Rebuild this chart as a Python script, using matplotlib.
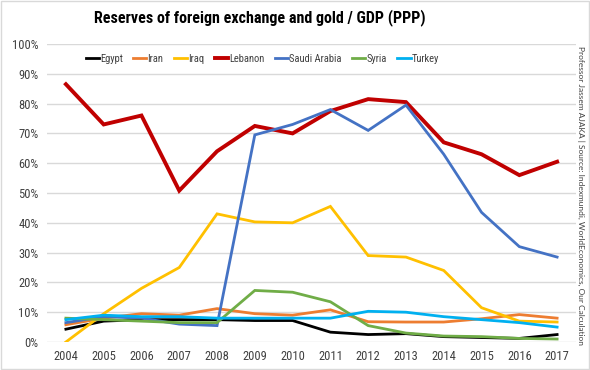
import matplotlib
matplotlib.use("Agg")
import matplotlib.pyplot as plt
from matplotlib import font_manager as fm
from matplotlib.ticker import FuncFormatter

years = list(range(2004, 2018))
egypt = [4.3, 7.0, 7.5, 7.5, 7.5, 7.2, 7.2, 3.3, 2.5, 2.8, 1.8, 1.5, 1.2, 2.5]
iran = [5.8, 8.0, 9.5, 9.0, 11.2, 9.5, 9.0, 10.8, 6.8, 6.7, 6.7, 7.8, 9.2, 8.0]
iraq = [0.0, 9.5, 18.0, 25.0, 43.0, 40.3, 40.0, 45.5, 29.0, 28.5, 24.0, 11.5, 7.0, 6.7]
lebanon = [86.5, 73.0, 76.0, 50.8, 64.0, 72.5, 70.0, 77.5, 81.5, 80.5, 67.0, 63.0, 56.0, 60.5]
saudi = [6.5, 8.5, 8.0, 6.0, 5.5, 69.5, 73.0, 78.0, 71.0, 79.5, 63.0, 43.5, 32.0, 28.5]
syria = [8.0, 7.5, 7.0, 6.5, 6.5, 17.3, 16.7, 13.5, 5.5, 3.0, 2.0, 1.8, 1.2, 1.0]
turkey = [7.5, 9.0, 8.5, 8.5, 8.0, 8.0, 8.0, 8.0, 10.3, 10.0, 8.5, 7.5, 6.5, 5.0]

series = [("Egypt", egypt, "#000000", 2.0),
          ("Iran", iran, "#ED7D31", 2.0),
          ("Iraq", iraq, "#FFC000", 2.0),
          ("Lebanon", lebanon, "#C00000", 2.8),
          ("Saudi Arabia", saudi, "#4472C4", 2.0),
          ("Syria", syria, "#70AD47", 2.0),
          ("Turkey", turkey, "#00B0F0", 2.0)]

# pick a condensed font if one is installed
names = {f.name for f in fm.fontManager.ttflist}
FAM, STRETCH, FOUND = 'DejaVu Sans', 'normal', False
for pref in ['Liberation Sans Narrow', 'Roboto Condensed', 'Open Sans Condensed',
             'Noto Sans Condensed', 'DejaVu Sans Condensed', 'Noto Sans Display Condensed']:
    if pref in names:
        FAM, FOUND = pref, True
        break
if not FOUND:
    for f in fm.fontManager.ttflist:
        st = f.stretch
        if (isinstance(st, str) and 'condensed' in st) or (isinstance(st, (int, float)) and st < 500):
            FAM, STRETCH, FOUND = f.name, 'condensed', True
            break

FONT = [FAM, 'DejaVu Sans']
scale = 1.0 if FOUND else 0.8

fig = plt.figure(figsize=(5.9, 3.7), dpi=100)
fig.patch.set_facecolor("white")
ax = fig.add_axes([47/590, 1-342/370, (576-47)/590, (342-44)/370])

for name, vals, col, lw in series:
    ax.plot(years, vals, color=col, lw=lw, label=name, solid_joinstyle='miter')

ax.set_xlim(2003.5, 2017.5)
ax.set_ylim(0, 100)
ax.set_yticks(range(0, 101, 10))
ax.yaxis.set_major_formatter(FuncFormatter(lambda v, p: f"{int(v)}%"))
ax.set_xticks(years)
ax.grid(axis='y', color='#D9D9D9', lw=1)
ax.set_axisbelow(True)
for s in ax.spines.values():
    s.set_visible(False)
ax.tick_params(length=0, labelsize=9 * scale, colors='#404040', pad=6)
for lab in ax.get_xticklabels() + ax.get_yticklabels():
    lab.set_family(FONT)
    lab.set_stretch(STRETCH)
    lab.set_color('#404040')

leg = ax.legend(loc='upper center', bbox_to_anchor=(0.407, 1.0), ncol=7, frameon=False,
                handlelength=1.25, handletextpad=0.1, columnspacing=1.0,
                prop={'family': FONT, 'size': 7.6 * scale, 'stretch': STRETCH})
for t in leg.get_texts():
    t.set_color('#404040')

fig.text(260/590, 1-18/370, "Reserves of foreign exchange and gold / GDP (PPP)",
         ha='center', va='center', fontsize=11.5 * scale, fontweight='bold', family=FONT,
         fontstretch=STRETCH, color='#000000')
fig.text(581/590, 1-195/370,
         "Professor Jassem AJAKA | Source: Indexmundi, WorldEconomics, Our Calculation",
         rotation=270, ha='center', va='center', fontsize=6.0, color='#404040',
         family=['Lato', 'DejaVu Sans'])

fig.patches.append(plt.Rectangle((0.001, 0.002), 0.997, 0.995, transform=fig.transFigure,
                                 fill=False, edgecolor='#D9D9D9', lw=1))

fig.savefig("out.png", dpi=100)
